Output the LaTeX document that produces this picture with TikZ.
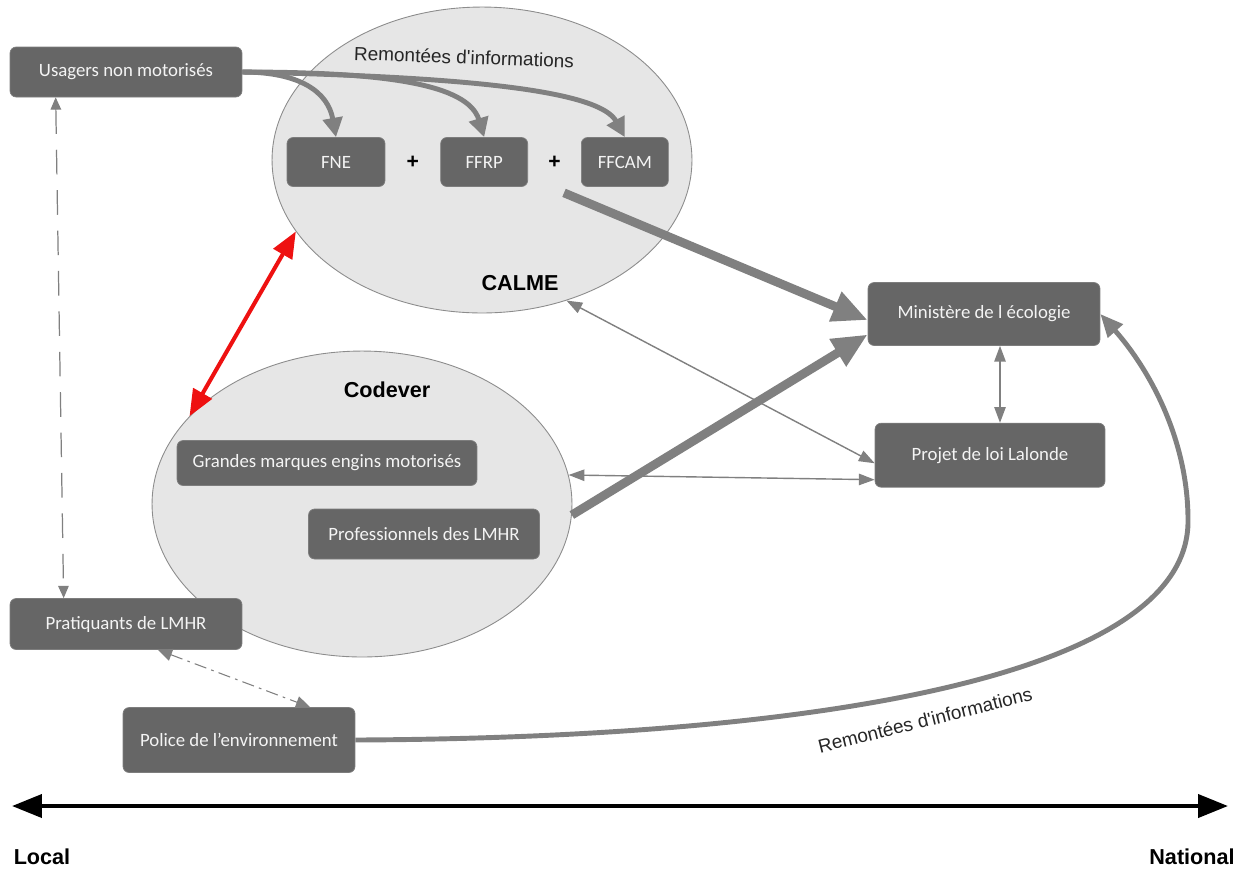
\documentclass[tikz,border=0pt]{standalone}
\usepackage{fontspec}
\setmainfont{Liberation Sans}
\newfontfamily\boxfont{Carlito}
\usetikzlibrary{positioning,arrows.meta,shapes.geometric,calc}
\definecolor{CVBox}{HTML}{666666}
\definecolor{CVText}{HTML}{F4F4F4}
\definecolor{CVZone}{HTML}{E6E6E6}
\definecolor{CVEdge}{HTML}{8C8C8C}
\definecolor{CVLine}{HTML}{808080}
\definecolor{CVRed}{HTML}{EE1111}
\tikzset{
  cvbox/.style={
    rectangle,
    rounded corners=3.5pt,
    fill=CVBox,
    draw=CVBox!85!white,
    line width=0.4pt,
    text=CVText,
    align=center,
    inner sep=2pt,
    font=\boxfont\fontsize{10.7}{12}\selectfont,
    minimum height=1cm
  },
  cvzone/.style={ellipse,draw=CVEdge,fill=CVZone,line width=0.5pt,
    minimum width=8.4cm,minimum height=6.12cm,inner sep=0pt},
  cvtitle/.style={font=\bfseries\fontsize{12.3}{14}\selectfont,text=black},
  cvplus/.style={font=\bfseries\fontsize{12}{14}\selectfont,text=black},
  cvnote/.style={font=\fontsize{10.8}{12}\selectfont,text=black!85},
  cvinfo/.style={-{Triangle[length=11pt,width=11pt]},line width=2.8pt,draw=CVLine},
  cvthick/.style={-{Triangle[length=20pt,width=17pt]},line width=5pt,draw=CVLine},
  cvthin/.style={{Triangle[length=9pt,width=6.5pt]}-{Triangle[length=9pt,width=6.5pt]},
    line width=0.8pt,draw=CVLine},
  cvred/.style={{Triangle[length=15pt,width=12pt]}-{Triangle[length=15pt,width=12pt]},
    line width=2.3pt,draw=CVRed},
  cvdash/.style={{Triangle[length=7pt,width=6pt]}-{Triangle[length=7pt,width=6pt]},
    line width=0.7pt,draw=CVLine,dash pattern=on 14pt off 9pt},
  cvdashdot/.style={{Triangle[length=8pt,width=7pt]}-{Triangle[length=8pt,width=7pt]},
    line width=0.6pt,draw=CVLine,dash pattern=on 7pt off 3pt on 1.5pt off 3pt},
  cvcurve/.style={-{Triangle[length=13pt,width=11pt]},line width=2.8pt,draw=CVLine},
  cvaxis/.style={{Triangle[length=17pt,width=13pt]}-{Triangle[length=17pt,width=13pt]},
    line width=2.4pt,draw=black},
}

\begin{document}
\begin{tikzpicture}[x=0.02cm,y=-0.02cm]
  \fill[white] (0,0) rectangle (1246,870);
  \useasboundingbox (0,0) rectangle (1246,870);

  % zones
  \node[cvzone] (calme) at (482,160) {};
  \node[cvzone] (codever) at (362,504) {};
  \node[cvtitle] (calmetitle) at (520,283) {CALME};
  \node[cvtitle] (codevertitle) at (387,390) {Codever};
  \node[cvnote,rotate=-2] (infotop) at (464,57) {Remontées d\textquotesingle informations};

  % acteurs
  \node[cvbox,minimum width=4.64cm] (usagers) at (126,72) {Usagers non motorisés};
  \node[cvbox,minimum width=1.96cm,minimum height=0.98cm] (fne) at (336,162) {FNE};
  \node[cvbox,right=1.1cm of fne,minimum width=1.74cm,minimum height=0.98cm] (ffrp) {FFRP};
  \node[cvbox,right=1.06cm of ffrp,minimum width=1.74cm,minimum height=0.98cm] (ffcam) {FFCAM};
  \node[cvplus] (plusa) at ($(fne.east)!0.5!(ffrp.west)$) {+};
  \node[cvplus] (plusb) at ($(ffrp.east)!0.5!(ffcam.west)$) {+};

  \node[cvbox,minimum width=4.64cm,minimum height=1.26cm] (ministere) at (984,314)
    {Ministère de l écologie};
  \node[cvbox,below=1.54cm of ministere,xshift=0.12cm,minimum width=4.6cm,minimum height=1.28cm]
    (projet) {Projet de loi Lalonde};

  \node[cvbox,minimum width=6cm,minimum height=0.9cm] (grandes) at (327,463)
    {Grandes marques engins motorisés};
  \node[cvbox,minimum width=4.62cm] (pros) at (424,534) {Professionnels des LMHR};
  \node[cvbox,minimum width=4.64cm,minimum height=1.02cm] (pratiquants) at (126,624)
    {Pratiquants de LMHR};
  \node[cvbox,minimum width=4.64cm,minimum height=1.3cm] (police) at (239,740)
    {Police de l’environnement};

  % remontees vers les federations
  \draw[cvinfo] (usagers.east) .. controls (300,72) and (328,92) .. (fne.north);
  \draw[cvinfo] (usagers.east) .. controls (385,72) and (468,84) .. (ffrp.north);
  \draw[cvinfo] (usagers.east) .. controls (480,77) and (600,92) .. (ffcam.north);

  % vers le ministere
  \draw[cvthick] ([shift={(-17,6)}]ffcam.south west) -- (ministere.183);
  \draw[cvthick] (codever.-3) -- (ministere.190);
  \draw[cvthin] (ministere.south) ++(16,0) coordinate (minlow) -- (minlow |- projet.north);
  \draw[cvthin] (calme.-59) -- (projet.184);
  \draw[cvthin] (codever.8) -- (projet.192);
  \draw[cvred] (calme.201) -- (codever.153);

  % local
  \draw[cvdash] ([xshift=0.92cm]usagers.south west) -- ([xshift=1.08cm]pratiquants.north west);
  \draw[cvdashdot] ([xshift=0.64cm]pratiquants.south) -- ([xshift=1.42cm]police.north);

  \coordinate (swing) at (1188,520);
  \draw[cvcurve] (police.east) .. controls (800,738) and (1190,680) .. (swing)
    .. controls (1188,440) and (1150,370) .. (ministere.east);
  \node[cvnote,rotate=14] (infobottom) at (925,720) {Remontées d\textquotesingle informations};

  % echelle
  \coordinate (localend) at (12,806);
  \coordinate (nationalend) at (1228,806);
  \draw[cvaxis] (localend) -- (nationalend);
  \node[cvtitle] (local) at (42,857) {Local};
  \node[cvtitle] (national) at (1192,857) {National};
\end{tikzpicture}
\end{document}
